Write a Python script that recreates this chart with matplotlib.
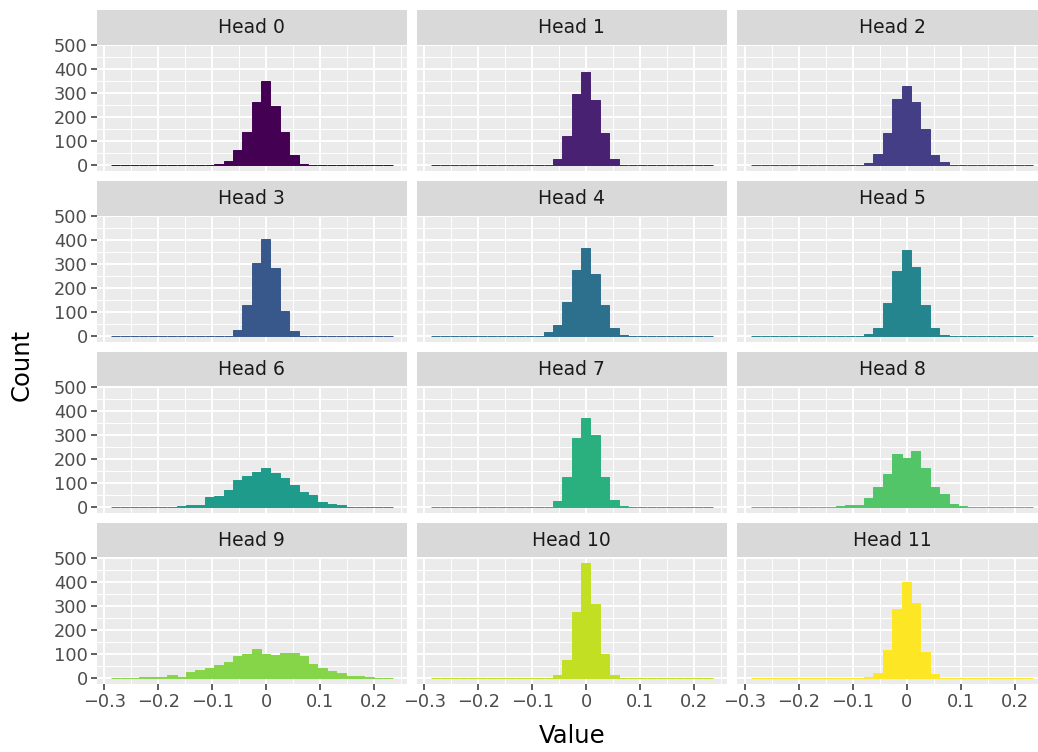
import numpy as np
import matplotlib
matplotlib.use("Agg")
import matplotlib.pyplot as plt
from matplotlib.ticker import FixedLocator, MultipleLocator

# histogram bins shared by every head (30 bins)
bin_edges = np.linspace(-0.288, 0.2345, 31)

head0 = [0, 0, 0, 0, 0, 0, 0, 0, 0, 0, 0, 4, 18, 64, 139, 264, 351, 247, 139, 43,
         5, 0, 0, 0, 0, 0, 0, 0, 0, 0]
head1 = [0, 0, 0, 0, 0, 0, 0, 0, 0, 0, 0, 0, 0, 26, 122, 297, 389, 272, 135, 26,
         0, 0, 0, 0, 0, 0, 0, 0, 0, 0]
head2 = [0, 0, 0, 0, 0, 0, 0, 0, 0, 0, 0, 0, 10, 47, 135, 276, 331, 264, 151, 43,
         14, 0, 0, 0, 0, 0, 0, 0, 0, 0]
head3 = [0, 0, 0, 0, 0, 0, 0, 0, 0, 0, 0, 0, 0, 26, 131, 306, 406, 285, 106, 22,
         0, 0, 0, 0, 0, 0, 0, 0, 0, 0]
head4 = [0, 0, 0, 0, 0, 0, 0, 0, 0, 0, 0, 0, 18, 47, 143, 276, 368, 260, 131, 35,
         6, 0, 0, 0, 0, 0, 0, 0, 0, 0]
head5 = [0, 0, 0, 0, 0, 0, 0, 0, 0, 0, 0, 0, 10, 35, 139, 272, 360, 289, 131, 35,
         6, 0, 0, 0, 0, 0, 0, 0, 0, 0]
head6 = [0, 0, 0, 0, 0, 0, 0, 4, 8, 8, 42, 46, 71, 112, 129, 146, 162, 142, 121, 92,
         62, 50, 21, 12, 8, 0, 0, 0, 0, 0]
head7 = [0, 0, 0, 0, 0, 0, 0, 0, 0, 0, 0, 0, 0, 25, 125, 287, 371, 300, 125, 29,
         4, 0, 0, 0, 0, 0, 0, 0, 0, 0]
head8 = [0, 0, 0, 0, 0, 0, 0, 0, 0, 4, 8, 8, 37, 83, 137, 221, 204, 233, 162, 83,
         54, 12, 4, 0, 0, 0, 0, 0, 0, 0]
head9 = [1, 1, 1, 4, 4, 4, 12, 4, 25, 33, 42, 54, 67, 92, 100, 121, 100, 96, 104, 104,
         92, 58, 42, 29, 21, 8, 8, 4, 1, 1]
head10 = [0, 0, 0, 0, 0, 0, 0, 0, 0, 0, 0, 0, 0, 12, 75, 275, 479, 308, 100, 12,
          0, 0, 0, 0, 0, 0, 0, 0, 0, 0]
head11 = [0, 0, 0, 0, 0, 0, 0, 0, 0, 0, 0, 0, 4, 21, 117, 287, 400, 312, 108, 17,
          0, 0, 0, 0, 0, 0, 0, 0, 0, 0]

heads = [head0, head1, head2, head3, head4, head5,
         head6, head7, head8, head9, head10, head11]
head_labels = [f"Head {i}" for i in range(12)]

x_ticks = [-0.3, -0.2, -0.1, 0.0, 0.1, 0.2]
x_ticklabels = ["\u22120.3", "\u22120.2", "\u22120.1", "0", "0.1", "0.2"]
y_ticks = [0, 100, 200, 300, 400, 500]

# ── layout (pixels) ─────────────────────────────────────────────────────────
W, H = 1038, 752
PANEL_LEFT = [96.7, 416.7, 737.2]
PANEL_TOP = [44.7, 215.6, 386.3, 557.3]
PANEL_W, PANEL_H = 310.0, 126.3
STRIP_H = 34.5

PANEL_BG = "#ebebeb"
STRIP_BG = "#d9d9d9"
TICK_COL = "#4d4d4d"

colors = plt.cm.viridis(np.linspace(0, 1, 12))

widths = np.diff(bin_edges)
all_max = max(max(h) for h in heads)
y_lo, y_hi = -0.05 * all_max, 1.05 * all_max
x_lo = bin_edges[0] - 0.05 * (bin_edges[-1] - bin_edges[0])
x_hi = bin_edges[-1] + 0.05 * (bin_edges[-1] - bin_edges[0])

fig = plt.figure(figsize=(W / 100, H / 100), dpi=100)
fig.patch.set_facecolor("white")


def frac(left, top, w, h):
    return [left / W, 1 - (top + h) / H, w / W, h / H]


for i, counts in enumerate(heads):
    r, c = divmod(i, 3)
    ax = fig.add_axes(frac(PANEL_LEFT[c], PANEL_TOP[r], PANEL_W, PANEL_H))
    ax.set_facecolor(PANEL_BG)
    ax.bar(bin_edges[:-1], counts, width=widths, align="edge",
           color=colors[i], edgecolor=colors[i], linewidth=0.7, zorder=3)
    ax.set_xlim(x_lo, x_hi)
    ax.set_ylim(y_lo, y_hi)

    ax.xaxis.set_major_locator(FixedLocator(x_ticks))
    ax.xaxis.set_minor_locator(MultipleLocator(0.05))
    ax.yaxis.set_major_locator(FixedLocator(y_ticks))
    ax.yaxis.set_minor_locator(MultipleLocator(50))
    ax.grid(which="major", color="white", linewidth=1.4, zorder=0)
    ax.grid(which="minor", color="white", linewidth=0.7, zorder=0)
    ax.set_axisbelow(True)
    for sp in ax.spines.values():
        sp.set_visible(False)

    ax.tick_params(which="minor", length=0)
    ax.tick_params(which="major", length=4.5, width=1.1, color="#333333",
                   labelsize=12.8, labelcolor=TICK_COL, pad=2)
    if c == 0:
        ax.set_yticklabels([str(v) for v in y_ticks])
    else:
        ax.tick_params(axis="y", length=0, labelleft=False)
    if r == 3:
        ax.set_xticklabels(x_ticklabels)
    else:
        ax.tick_params(axis="x", length=0, labelbottom=False)

    strip = fig.add_axes(frac(PANEL_LEFT[c], PANEL_TOP[r] - STRIP_H, PANEL_W, STRIP_H))
    strip.set_facecolor(STRIP_BG)
    strip.set_xticks([])
    strip.set_yticks([])
    for sp in strip.spines.values():
        sp.set_visible(False)
    strip.text(0.5, 0.5, head_labels[i], ha="center", va="center",
               fontsize=13.5, color="#1a1a1a", transform=strip.transAxes)

fig.text(22 / W, 1 - 365 / H, "Count", rotation=90, ha="center", va="center",
         fontsize=17.5, color="black")
fig.text(572 / W, 1 - 736 / H, "Value", ha="center", va="center",
         fontsize=17.5, color="black")

fig.savefig("out.png", dpi=100, facecolor="white")
